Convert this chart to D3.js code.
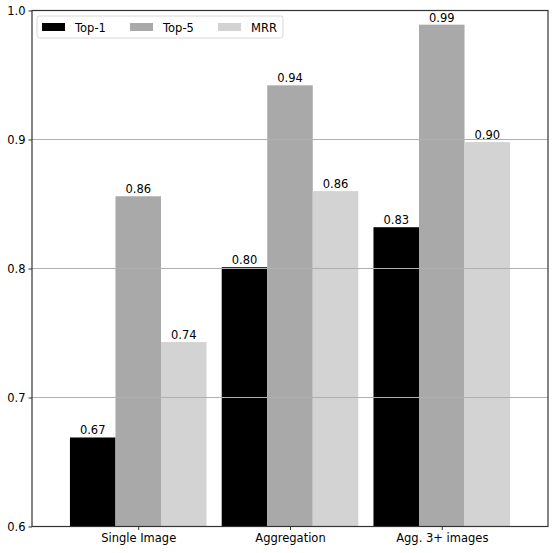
<!DOCTYPE html>
<html>
<head>
<meta charset="utf-8">
<script src="https://cdn.jsdelivr.net/npm/d3@7"></script>
<style>
  body { margin: 0; background: #fff; }
  svg { display: block; font-family: "DejaVu Sans", sans-serif; }
</style>
</head>
<body>
<div id="chart"></div>
<script>
// chart data
const categories = ['Single Image', 'Aggregation', 'Agg. 3+ images'];
const seriesNames = ['Top-1', 'Top-5', 'MRR'];
const top1 = [0.669, 0.801, 0.832];
const top5 = [0.856, 0.942, 0.989];
const mrr = [0.743, 0.860, 0.898];
const yTicks = [0.6, 0.7, 0.8, 0.9, 1.0];

const seriesValues = [top1, top5, mrr];
const colors = ['#000000', '#a9a9a9', '#d3d3d3'];

const width = 555, height = 553;
const margin = { top: 10.5, right: 7, bottom: 26.5, left: 32 };
const barW = 0.3;

const svg = d3.select('#chart').append('svg')
  .attr('width', width)
  .attr('height', height);

const x = d3.scaleLinear()
  .domain([-0.7, 2.7])
  .range([margin.left, width - margin.right]);

const y = d3.scaleLinear()
  .domain([0.6, 1.0])
  .range([height - margin.bottom, margin.top]);

// bars
seriesValues.forEach((vals, s) => {
  const g = svg.append('g');
  g.selectAll('rect')
    .data(vals)
    .join('rect')
    .attr('x', (d, i) => x(i + (s - 1) * barW - barW / 2))
    .attr('width', x(barW) - x(0))
    .attr('y', d => y(d))
    .attr('height', d => y(0.6) - y(d))
    .attr('fill', colors[s]);

  g.selectAll('text')
    .data(vals)
    .join('text')
    .attr('x', (d, i) => x(i + (s - 1) * barW))
    .attr('y', d => y(d) - 3)
    .attr('text-anchor', 'middle')
    .attr('font-size', 11.5)
    .attr('fill', '#000')
    .text(d => d.toFixed(2));
});

// grid (on top of bars)
svg.append('g')
  .selectAll('line')
  .data(yTicks.slice(1, -1))
  .join('line')
  .attr('x1', x.range()[0])
  .attr('x2', x.range()[1])
  .attr('y1', d => y(d))
  .attr('y2', d => y(d))
  .attr('stroke', '#b0b0b0')
  .attr('stroke-width', 1);

// axes
const yAxis = svg.append('g')
  .attr('transform', `translate(${margin.left},0)`)
  .call(d3.axisLeft(y).tickValues(yTicks).tickFormat(d3.format('.1f')).tickSize(3.5).tickPadding(3));

const xAxis = svg.append('g')
  .attr('transform', `translate(0,${height - margin.bottom})`)
  .call(d3.axisBottom(x).tickValues(d3.range(categories.length)).tickFormat(i => categories[i]).tickSize(3.5).tickPadding(4));

[xAxis, yAxis].forEach(a => {
  a.select('.domain').remove();
  a.selectAll('text').attr('font-size', 11.5).attr('font-family', '"DejaVu Sans", sans-serif').attr('fill', '#000');
  a.selectAll('line').attr('stroke', '#333').attr('stroke-width', 1);
});

// frame
svg.append('rect')
  .attr('x', x.range()[0])
  .attr('y', y.range()[1])
  .attr('width', x.range()[1] - x.range()[0])
  .attr('height', y.range()[0] - y.range()[1])
  .attr('fill', 'none')
  .attr('stroke', '#333')
  .attr('stroke-width', 1.2);

// legend
const legend = svg.append('g').attr('transform', 'translate(37,16)');
legend.append('rect')
  .attr('width', 246)
  .attr('height', 22)
  .attr('rx', 2.5)
  .attr('fill', 'rgba(255,255,255,0.8)')
  .attr('stroke', '#d8d8d8');

const items = legend.selectAll('g.item')
  .data(seriesNames)
  .join('g')
  .attr('class', 'item')
  .attr('transform', (d, i) => `translate(${5 + i * 88},7)`);
items.append('rect')
  .attr('width', 23)
  .attr('height', 8)
  .attr('fill', (d, i) => colors[i]);
items.append('text')
  .attr('x', 33)
  .attr('y', 8.5)
  .attr('font-size', 11.5)
  .attr('fill', '#000')
  .text(d => d);
</script>
</body>
</html>
